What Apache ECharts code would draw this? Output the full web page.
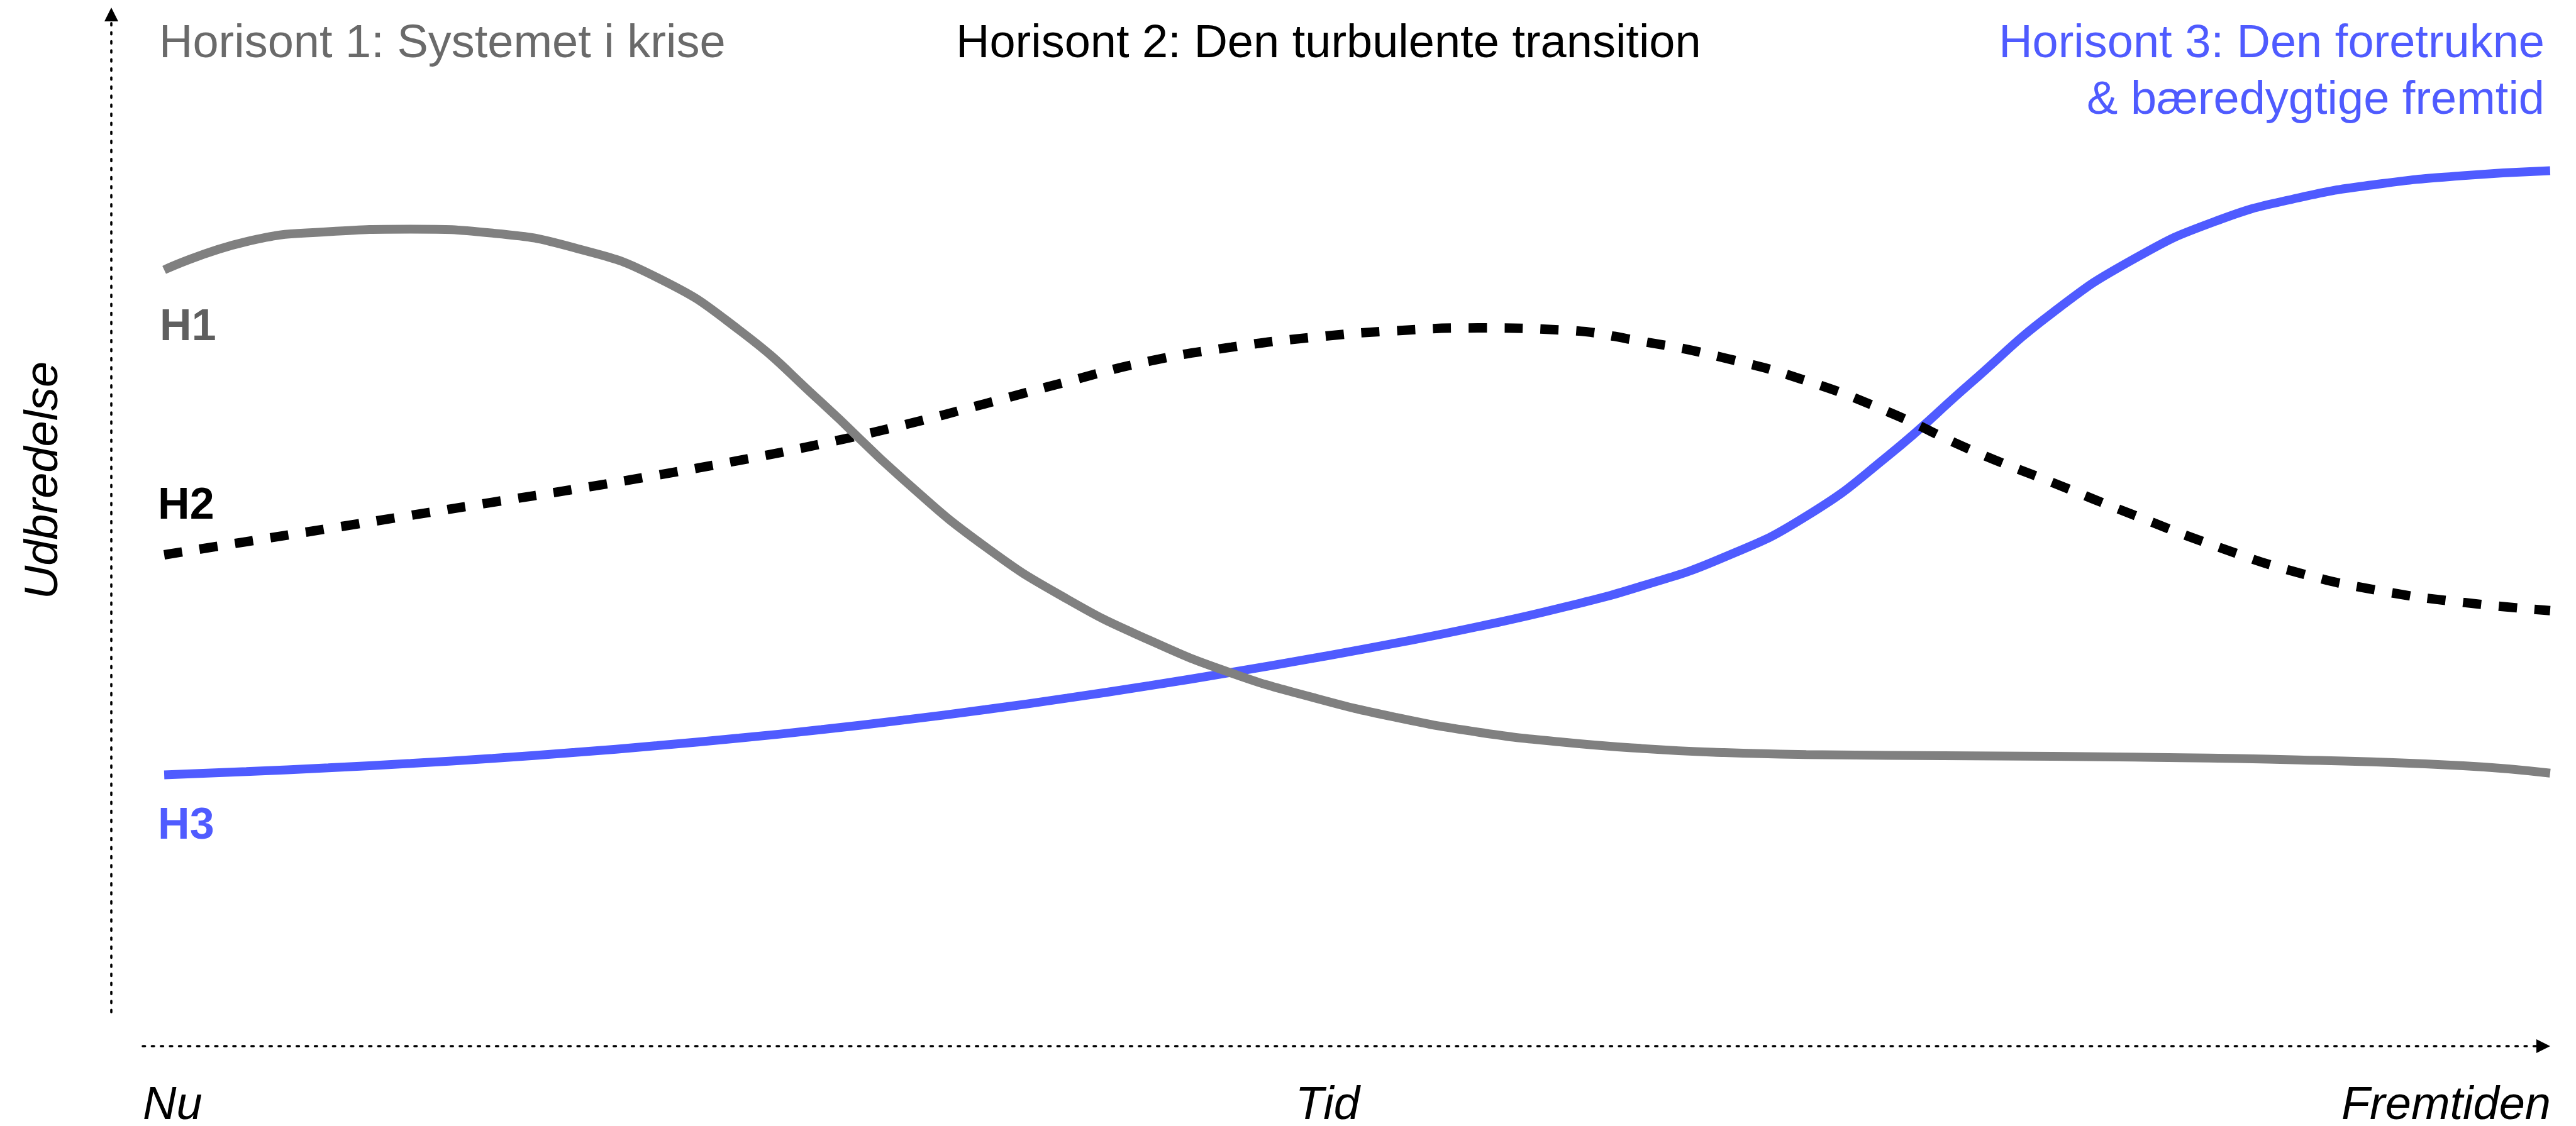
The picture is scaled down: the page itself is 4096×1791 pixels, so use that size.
<!DOCTYPE html>
<html>
<head>
<meta charset="utf-8">
<title>Horisonter</title>
<script src="https://cdn.jsdelivr.net/npm/echarts@6/dist/echarts.min.js"></script>
<style>
  html, body { margin: 0; padding: 0; background: #fff; }
  #chart { width: 4096px; height: 1791px; }
</style>
</head>
<body>
<div id="chart"></div>
<script>
// time axis runs 0 (Nu) .. 100 (Fremtiden), spread 0 .. 100
const timeTicks = [0, 49.2, 100];
const timeLabels = ["Nu", "Tid", "Fremtiden"];

const h1Time = [0.89, 4.3, 7.71, 11.12, 14.53, 17.94, 21.35, 24.76, 28.17, 31.57, 34.98, 38.39, 41.8, 45.21, 48.62, 52.03, 55.44, 58.85, 62.26, 65.67, 69.08, 75.9, 82.72, 89.54, 96.36, 99.97];
const h1Spread = [74.92, 77.77, 78.77, 79.03, 78.63, 77.14, 74.16, 68.86, 61.57, 53.79, 46.99, 41.69, 37.55, 34.23, 31.75, 29.76, 28.27, 27.28, 26.61, 26.2, 26.0, 25.87, 25.74, 25.46, 24.88, 24.13];

const h2Time = [0.89, 4.3, 7.71, 11.12, 14.53, 17.94, 21.35, 24.76, 28.17, 31.57, 34.98, 38.39, 41.8, 45.21, 48.62, 52.03, 55.44, 58.85, 62.26, 65.67, 69.08, 72.49, 75.9, 79.31, 82.72, 86.13, 89.54, 92.95, 96.36, 99.97];
const h2Spread = [46.16, 47.49, 48.81, 50.14, 51.47, 52.79, 54.2, 55.69, 57.35, 59.25, 61.41, 63.64, 65.71, 67.12, 68.12, 68.78, 69.06, 68.86, 67.7, 66.04, 63.73, 60.58, 56.77, 53.45, 50.14, 47.0, 44.34, 42.52, 41.36, 40.53];

const h3Time = [0.89, 4.3, 7.71, 11.12, 14.53, 17.94, 21.35, 24.76, 28.17, 31.57, 34.98, 38.39, 41.8, 45.21, 48.62, 52.03, 55.44, 58.85, 62.26, 65.67, 69.08, 72.49, 75.9, 79.31, 82.72, 86.13, 89.54, 92.95, 96.36, 99.97];
const h3Spread = [23.96, 24.28, 24.66, 25.11, 25.62, 26.22, 26.9, 27.66, 28.52, 29.48, 30.54, 31.7, 32.96, 34.3, 35.73, 37.25, 38.91, 40.78, 43.02, 45.92, 50.06, 56.19, 63.48, 70.6, 76.07, 79.88, 82.2, 83.61, 84.43, 84.93];

const GREY = "#808080";
const BLUE = "#4f5bff";
const FONT = "Liberation Sans";

function pairs(xs, ys) {
  return xs.map((x, i) => [x, ys[i]]);
}

function startLabel(name, xs, ys, color, offset) {
  return {
    symbol: "circle",
    symbolSize: 0,
    silent: true,
    label: {
      show: true,
      position: "inside",
      align: "left",
      verticalAlign: "middle",
      offset: offset,
      formatter: name,
      color: color,
      fontFamily: FONT,
      fontWeight: "bold",
      fontSize: 70,
    },
    data: [{ coord: [xs[0], ys[0]] }],
  };
}

const chart = echarts.init(document.getElementById("chart"));

const dotted = { color: "#000", width: 3.6, type: [3.6, 10.8] };
const titleStyle = {
  fontFamily: FONT,
  fontWeight: "normal",
  fontSize: 74,
  lineHeight: 90,
};

chart.setOption({
  animation: false,
  backgroundColor: "#fff",
  title: [
    {
      text: "Horisont 1: Systemet i krise",
      left: 253,
      top: 26,
      padding: 0,
      textStyle: { ...titleStyle, color: "#6a6a6a" },
    },
    {
      text: "Horisont 2: Den turbulente transition",
      left: 1520,
      top: 26,
      padding: 0,
      textStyle: { ...titleStyle, color: "#000" },
    },
    {
      text: "Horisont 3: Den foretrukne\n& bæredygtige fremtid",
      left: 4046,
      top: 26,
      padding: 0,
      textAlign: "right",
      textStyle: { ...titleStyle, color: BLUE },
    },
  ],
  grid: {
    left: 227,
    right: 40,
    top: 34,
    bottom: 181,
    containLabel: false,
    outerBoundsMode: "none",
  },
  xAxis: {
    type: "value",
    min: 0,
    max: 100,
    offset: 54,
    axisLine: {
      show: true,
      onZero: false,
      symbol: ["none", "triangle"],
      symbolSize: [22, 22],
      symbolOffset: [0, -12],
      lineStyle: dotted,
    },
    axisTick: { show: false },
    splitLine: { show: false },
    axisLabel: {
      customValues: timeTicks,
      formatter: (v) => timeLabels[timeTicks.indexOf(v)] || "",
      alignMinLabel: "left",
      alignMaxLabel: "right",
      margin: 58,
      color: "#000",
      fontFamily: FONT,
      fontStyle: "italic",
      fontSize: 74,
    },
  },
  yAxis: {
    type: "value",
    min: 0,
    max: 100,
    offset: 50,
    name: "Udbredelse",
    nameLocation: "middle",
    nameRotate: 90,
    nameGap: 70,
    nameTextStyle: {
      color: "#000",
      fontFamily: FONT,
      fontStyle: "italic",
      fontSize: 74,
      padding: [0, 0, 0, 116],
    },
    axisLine: {
      show: true,
      onZero: false,
      symbol: ["none", "triangle"],
      symbolSize: [22, 22],
      symbolOffset: [0, 11],
      lineStyle: dotted,
    },
    axisTick: { show: false },
    axisLabel: { show: false },
    splitLine: { show: false },
  },
  series: [
    {
      name: "H3",
      type: "line",
      data: pairs(h3Time, h3Spread),
      smooth: 0.5,
      showSymbol: false,
      clip: false,
      lineStyle: { color: BLUE, width: 14 },
      markPoint: startLabel("H3", h3Time, h3Spread, BLUE, [-10, 82]),
    },
    {
      name: "H2",
      type: "line",
      data: pairs(h2Time, h2Spread),
      smooth: 0.5,
      showSymbol: false,
      clip: false,
      lineStyle: { color: "#000", width: 15, type: [29, 28] },
      markPoint: startLabel("H2", h2Time, h2Spread, "#000", [-10, -77]),
    },
    {
      name: "H1",
      type: "line",
      data: pairs(h1Time, h1Spread),
      smooth: 0.5,
      showSymbol: false,
      clip: false,
      lineStyle: { color: GREY, width: 14 },
      markPoint: startLabel("H1", h1Time, h1Spread, "#5f5f5f", [-7, 92]),
    },
  ],
});
</script>
</body>
</html>
